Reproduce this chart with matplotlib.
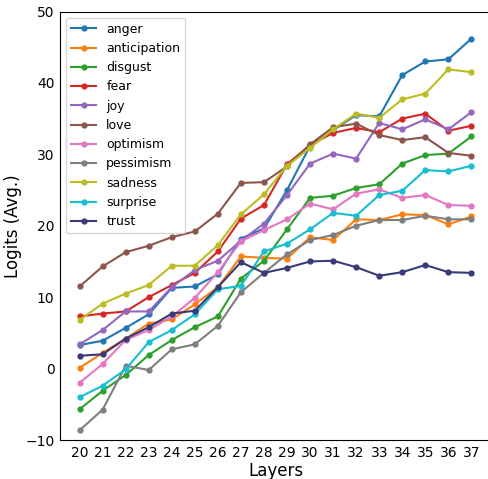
import matplotlib
matplotlib.use("Agg")
import matplotlib.pyplot as plt

layers = list(range(20, 38))

anger        = [3.3, 3.9, 5.7, 7.6, 11.3, 11.5, 13.2, 18.2, 19.6, 25.0, 31.2, 33.4, 35.5, 35.3, 41.1, 43.0, 43.3, 46.2]
anticipation = [0.1, 2.2, 4.2, 6.3, 6.9, 9.0, 11.4, 15.7, 15.5, 15.4, 18.4, 18.0, 20.9, 20.8, 21.6, 21.5, 20.2, 21.3]
disgust      = [-5.7, -3.1, -0.9, 1.9, 4.0, 5.8, 7.3, 12.6, 15.1, 19.5, 23.9, 24.2, 25.3, 25.8, 28.7, 29.9, 30.1, 32.5]
fear         = [7.3, 7.7, 8.0, 10.0, 11.7, 13.4, 16.4, 21.0, 22.9, 28.6, 31.3, 33.0, 33.7, 33.1, 35.0, 35.7, 33.3, 34.0]
joy          = [3.4, 5.4, 8.0, 8.0, 11.4, 13.8, 15.1, 17.9, 20.3, 24.3, 28.7, 30.1, 29.4, 34.4, 33.5, 34.9, 33.5, 35.9]
love         = [11.5, 14.3, 16.3, 17.2, 18.4, 19.2, 21.7, 26.0, 26.1, 28.3, 31.4, 33.8, 34.3, 32.7, 32.0, 32.4, 30.2, 29.8]
optimism     = [-2.0, 0.65, 4.0, 5.4, 7.3, 9.9, 13.5, 17.8, 19.4, 20.9, 23.1, 22.3, 24.5, 25.1, 23.9, 24.3, 22.9, 22.8]
pessimism    = [-8.65, -5.75, 0.4, -0.2, 2.7, 3.4, 6.0, 10.7, 13.4, 16.0, 18.0, 18.7, 20.0, 20.8, 20.8, 21.4, 20.9, 20.9]
sadness      = [6.8, 9.1, 10.5, 11.7, 14.4, 14.4, 17.3, 21.6, 24.4, 28.4, 30.9, 33.5, 35.7, 35.1, 37.7, 38.5, 41.9, 41.5]
surprise     = [-4.0, -2.4, -0.1, 3.7, 5.4, 7.6, 11.1, 11.6, 16.4, 17.5, 19.5, 21.8, 21.4, 24.3, 24.9, 27.8, 27.6, 28.4]
trust        = [1.8, 2.0, 4.2, 5.8, 7.7, 8.1, 11.4, 14.9, 13.4, 14.1, 15.0, 15.1, 14.2, 13.0, 13.5, 14.5, 13.5, 13.4]

series = [
    ("anger", anger, "tab:blue"),
    ("anticipation", anticipation, "tab:orange"),
    ("disgust", disgust, "tab:green"),
    ("fear", fear, "tab:red"),
    ("joy", joy, "tab:purple"),
    ("love", love, "tab:brown"),
    ("optimism", optimism, "tab:pink"),
    ("pessimism", pessimism, "tab:gray"),
    ("sadness", sadness, "tab:olive"),
    ("surprise", surprise, "tab:cyan"),
    ("trust", trust, "#393b79"),
]

fig = plt.figure(figsize=(4.89, 4.79), dpi=100)
ax = fig.add_axes([60 / 489, 1 - 440 / 479, 431 / 489, 428.5 / 479])

for name, vals, col in series:
    ax.plot(layers, vals, marker="o", markersize=3.5, linewidth=1.5, color=col, label=name)

ax.set_xlim(19.15, 37.85)
ax.set_ylim(-10, 50)
ax.set_xticks(layers)
ax.set_yticks([-10, 0, 10, 20, 30, 40, 50])
ax.tick_params(axis="both", which="both", length=0, labelsize=10, pad=4)
ax.set_xlabel("Layers", fontsize=12, labelpad=2)
ax.set_ylabel("Logits (Avg.)", fontsize=12, labelpad=2)
ax.legend(loc="upper left", fontsize=9)

fig.savefig("out.png", dpi=100)
